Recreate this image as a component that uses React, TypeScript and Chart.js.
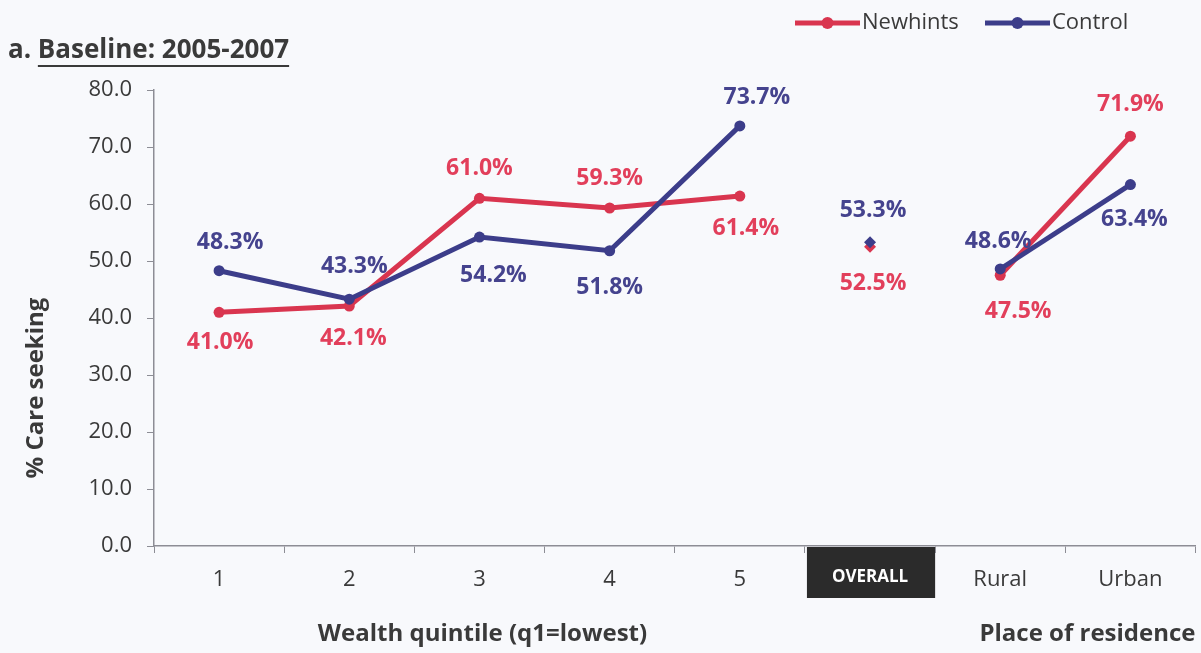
import React, { useEffect, useRef } from 'react';
import { Chart, registerables } from 'chart.js';

Chart.register(...registerables);

// ---- data ----
const categories = ['1', '2', '3', '4', '5', 'OVERALL', 'Rural', 'Urban'];
const newhintsValues = [41.0, 42.1, 61.0, 59.3, 61.4, 52.5, 47.5, 71.9];
const controlValues = [48.3, 43.3, 54.2, 51.8, 73.7, 53.3, 48.6, 63.4];
const seriesNames = ['Newhints', 'Control'];
const yMin = 0;
const yMax = 80;
const yStep = 10;
const chartTitlePrefix = 'a. ';
const chartTitleMain = 'Baseline: 2005-2007';
const yAxisTitle = '% Care seeking';
const xTitleWealth = 'Wealth quintile (q1=lowest)';
const xTitlePlace = 'Place of residence';
const overallIndex = 5;

// ---- styles ----
const FONT = '"Open Sans", "DejaVu Sans", sans-serif';
const RED = '#d9354f';
const NAVY = '#3c3d8a';
const RED_TEXT = '#e23f5b';
const NAVY_TEXT = '#45438e';
const TEXT = '#3a3a3a';
const AXIS = '#8d8d95';
const BG = '#f8f9fc';

// label offsets (px) relative to each point
const newhintsLabelOffsets = [[1, 30], [4, 32], [0, -30], [0, -30], [6, 32], [3, 37], [18, 36], [0, -32]];
const controlLabelOffsets = [[11, -28], [5, -33], [14, 38], [0, 37], [17, -28], [3, -32], [-2, -28], [4, 35]];

const labelStyle: Record<string, { offsets: number[][]; color: string }> = {
  Newhints: { offsets: newhintsLabelOffsets, color: RED_TEXT },
  Control: { offsets: controlLabelOffsets, color: NAVY_TEXT },
};

const pointStyles = categories.map((_, i) => (i === overallIndex ? 'rectRot' : 'circle'));
const pointRadii = categories.map((_, i) => (i === overallIndex ? 6 : 5.5));

const decorPlugin = {
  id: 'decor',
  beforeDraw(chart: any) {
    const { ctx, width, height } = chart;
    ctx.save();
    ctx.fillStyle = BG;
    ctx.fillRect(0, 0, width, height);
    // OVERALL box
    const xs = chart.scales.x;
    const ca = chart.chartArea;
    const cx = xs.getPixelForValue(overallIndex);
    const w = (ca.right - ca.left) / categories.length;
    ctx.fillStyle = '#2b2b2b';
    ctx.fillRect(cx - w / 2 + 2, ca.bottom + 1, w - 2, 51);
    ctx.restore();
  },
  afterDatasetsDraw(chart: any) {
    const { ctx } = chart;
    ctx.save();
    ctx.font = `bold 23px ${FONT}`;
    ctx.textAlign = 'center';
    ctx.textBaseline = 'middle';
    chart.data.datasets.forEach((ds: any, di: number) => {
      const meta = chart.getDatasetMeta(di);
      const st = labelStyle[ds.label];
      ctx.fillStyle = st.color;
      meta.data.forEach((pt: any, i: number) => {
        const v = ds.data[i];
        if (v == null) return;
        ctx.fillText(v.toFixed(1) + '%', pt.x + st.offsets[i][0], pt.y + st.offsets[i][1]);
      });
    });
    ctx.restore();
  },
  afterDraw(chart: any) {
    const { ctx } = chart;
    const ca = chart.chartArea;
    const xs = chart.scales.x;
    ctx.save();
    // title
    ctx.fillStyle = TEXT;
    ctx.font = `bold 26px ${FONT}`;
    ctx.textBaseline = 'alphabetic';
    ctx.textAlign = 'left';
    const tx = 8;
    const ty = 58;
    ctx.fillText(chartTitlePrefix, tx, ty);
    const pw = ctx.measureText(chartTitlePrefix).width;
    ctx.fillText(chartTitleMain, tx + pw, ty);
    const mw = ctx.measureText(chartTitleMain).width;
    ctx.fillRect(tx + pw, ty + 7, mw, 2);

    // legend
    const colors = [RED, NAVY];
    const legendX = [795, 985];
    ctx.font = `22px ${FONT}`;
    ctx.textBaseline = 'middle';
    seriesNames.forEach((name, i) => {
      const x0 = legendX[i];
      const x1 = x0 + 65;
      const y = 23;
      ctx.strokeStyle = colors[i];
      ctx.lineWidth = 5;
      ctx.beginPath();
      ctx.moveTo(x0, y);
      ctx.lineTo(x1, y);
      ctx.stroke();
      ctx.fillStyle = colors[i];
      ctx.beginPath();
      ctx.arc((x0 + x1) / 2, y, 6, 0, Math.PI * 2);
      ctx.fill();
      ctx.fillStyle = TEXT;
      ctx.textAlign = 'left';
      ctx.fillText(name, x1 + 2, y);
    });

    // axis titles
    ctx.fillStyle = TEXT;
    ctx.font = `bold 24px ${FONT}`;
    ctx.textBaseline = 'middle';
    ctx.textAlign = 'center';
    const wx = (xs.getPixelForValue(0) + xs.getPixelForValue(4)) / 2;
    ctx.fillText(xTitleWealth, wx + 3, 634);
    ctx.textAlign = 'right';
    ctx.fillText(xTitlePlace, ca.right, 634);

    ctx.translate(36, 388);
    ctx.rotate(-Math.PI / 2);
    ctx.textAlign = 'center';
    ctx.fillText(yAxisTitle, 0, 0);
    ctx.restore();
  },
};

export default function App() {
  const ref = useRef<HTMLCanvasElement>(null);
  useEffect(() => {
    if (!ref.current) return;
    const chart = new Chart(ref.current, {
      type: 'line',
      data: {
        labels: categories,
        datasets: [
          {
            label: seriesNames[1],
            data: controlValues,
            borderColor: NAVY,
            backgroundColor: NAVY,
            borderWidth: 5,
            pointStyle: pointStyles as any,
            pointRadius: pointRadii,
            pointBackgroundColor: NAVY,
            pointBorderColor: NAVY,
            pointBorderWidth: 0,
            tension: 0,
            segment: {
              borderColor: (c: any) =>
                c.p0DataIndex === overallIndex || c.p1DataIndex === overallIndex ? 'rgba(0,0,0,0)' : NAVY,
            },
          },
          {
            label: seriesNames[0],
            data: newhintsValues,
            borderColor: RED,
            backgroundColor: RED,
            borderWidth: 5,
            pointStyle: pointStyles as any,
            pointRadius: pointRadii,
            pointBackgroundColor: RED,
            pointBorderColor: RED,
            pointBorderWidth: 0,
            tension: 0,
            segment: {
              borderColor: (c: any) =>
                c.p0DataIndex === overallIndex || c.p1DataIndex === overallIndex ? 'rgba(0,0,0,0)' : RED,
            },
          },
        ],
      },
      options: {
        responsive: false,
        animation: false,
        layout: { padding: { left: 0, top: 90, right: 5, bottom: 0 } },
        plugins: {
          legend: { display: false },
          title: { display: false },
          tooltip: { enabled: false },
        },
        scales: {
          x: {
            type: 'category',
            offset: true,
            border: { display: true, color: AXIS, width: 1.5 },
            grid: { display: true, drawOnChartArea: false, drawTicks: true, tickLength: 7, color: AXIS, offset: true },
            ticks: {
              padding: 14,
              color: (c: any) => (c.index === overallIndex ? '#ffffff' : TEXT),
              font: (c: any) =>
                c.index === overallIndex
                  ? { family: FONT, size: 17, weight: 'bold' }
                  : { family: FONT, size: 22 },
              autoSkip: false,
              maxRotation: 0,
            },
            afterFit: (s: any) => {
              s.height = 107;
            },
          },
          y: {
            min: yMin,
            max: yMax,
            border: { display: true, color: AXIS, width: 1.5 },
            grid: { display: true, drawOnChartArea: false, drawTicks: true, tickLength: 7, color: AXIS },
            ticks: {
              stepSize: yStep,
              padding: 15,
              color: TEXT,
              font: { family: FONT, size: 22 },
              callback: (v: any) => Number(v).toFixed(1),
            },
            afterFit: (s: any) => {
              s.width = 154;
            },
          },
        },
      },
      plugins: [decorPlugin],
    });
    return () => chart.destroy();
  }, []);
  return (
    <div style={{ position: 'absolute', left: 0, top: 0, width: 1201, height: 653, background: BG }}>
      <canvas ref={ref} width={1201} height={653} style={{ display: 'block' }} />
    </div>
  );
}
